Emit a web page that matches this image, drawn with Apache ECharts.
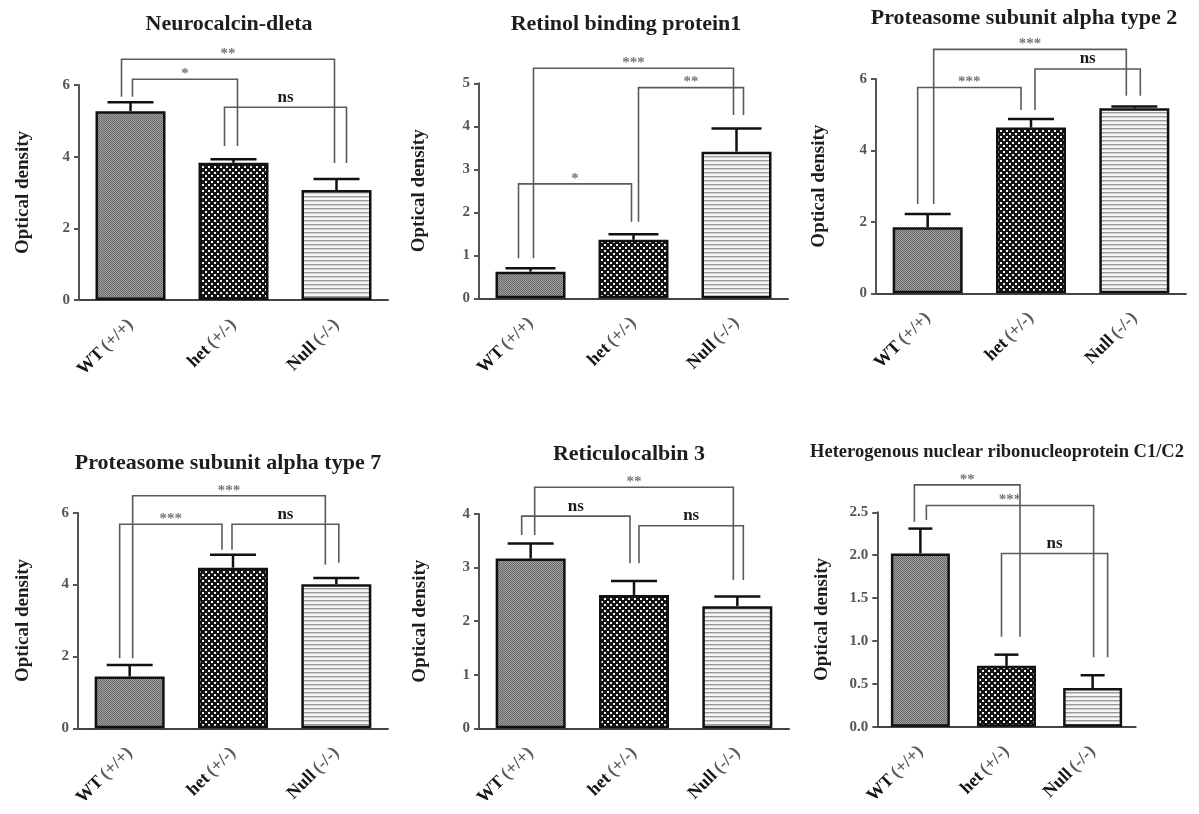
<!DOCTYPE html>
<html><head><meta charset="utf-8">
<script src="https://cdn.jsdelivr.net/npm/echarts@6/dist/echarts.min.js"></script>
<style>html,body{margin:0;padding:0;background:#fff}#c{width:1199px;height:814px}</style>
</head><body><div id="c"></div>
<script>
// ---------------- DATA ----------------
const categories = ['WT (+/+)', 'het (+/-)', 'Null (-/-)'];
const panelTitles = ['Neurocalcin-dleta', 'Retinol binding protein1', 'Proteasome subunit alpha type 2',
  'Proteasome subunit alpha type 7', 'Reticulocalbin 3', 'Heterogenous nuclear ribonucleoprotein C1/C2'];
const yAxisName = 'Optical density';

const yTicks1 = [0, 2, 4, 6];
const yTicks2 = [0, 1, 2, 3, 4, 5];
const yTicks3 = [0, 2, 4, 6];
const yTicks4 = [0, 2, 4, 6];
const yTicks5 = [0, 1, 2, 3, 4];
const yTicks6 = [0.0, 0.5, 1.0, 1.5, 2.0, 2.5];

const neurocalcinMean = [5.27, 3.83, 3.07];
const neurocalcinSem  = [0.25, 0.10, 0.31];
const retinolMean = [0.62, 1.36, 3.41];
const retinolSem  = [0.08, 0.13, 0.54];
const psma2Mean = [1.85, 4.64, 5.18];
const psma2Sem  = [0.37, 0.24, 0.05];
const psma7Mean = [1.44, 4.47, 4.01];
const psma7Sem  = [0.32, 0.36, 0.17];
const rcn3Mean = [3.17, 2.49, 2.28];
const rcn3Sem  = [0.28, 0.26, 0.18];
const hnrnpMean = [2.02, 0.71, 0.45];
const hnrnpSem  = [0.29, 0.13, 0.15];

// brackets: [fromGroup, toGroup, bracketLevel, fromLegEnd, toLegEnd, label]
const neurocalcinBrackets = [[0, 2, 6.72, 5.67, 3.82, '**'], [0, 1, 6.16, 5.67, 4.30, '*'], [1, 2, 5.38, 4.30, 3.82, 'ns']];
const retinolBrackets = [[0, 2, 5.35, 0.93, 4.26, '***'], [1, 2, 4.90, 1.78, 4.26, '**'], [0, 1, 2.66, 0.93, 1.78, '*']];
const psma2Brackets = [[0, 2, 6.83, 2.50, 5.53, '***'], [0, 1, 5.76, 2.50, 5.13, '***'], [1, 2, 6.28, 5.13, 5.53, 'ns']];
const psma7Brackets = [[0, 2, 6.47, 1.95, 4.55, '***'], [0, 1, 5.68, 1.95, 4.97, '***'], [1, 2, 5.68, 4.97, 4.61, 'ns']];
const rcn3Brackets = [[0, 2, 4.50, 3.61, 2.77, '**'], [0, 1, 3.96, 3.61, 3.08, 'ns'], [1, 2, 3.78, 3.08, 2.77, 'ns']];
const hnrnpBrackets = [[0, 1, 2.82, 2.39, 1.05, '**'], [0, 2, 2.58, 2.41, 0.81, '***'], [1, 2, 2.02, 1.05, 0.81, 'ns']];

const panelMeans = [neurocalcinMean, retinolMean, psma2Mean, psma7Mean, rcn3Mean, hnrnpMean];
const panelSems = [neurocalcinSem, retinolSem, psma2Sem, psma7Sem, rcn3Sem, hnrnpSem];
const panelBrackets = [neurocalcinBrackets, retinolBrackets, psma2Brackets, psma7Brackets, rcn3Brackets, hnrnpBrackets];
const panelTicks = [yTicks1, yTicks2, yTicks3, yTicks4, yTicks5, yTicks6];

// ---------------- LAYOUT ----------------
const layouts = [
  {left: 79, top: 85, width: 309, height: 215, barWidth: 70, cap: 46, titleX: 224, titleY: 8, titleSize: 22, nameGap: 46, dec: 0,
   legOffsets: [[-9, -2], [2, 4], [-9, 10]]},
  {left: 479, top: 83.3, width: 309, height: 215, barWidth: 70, cap: 50, titleX: 621, titleY: 8, titleSize: 22, nameGap: 50, dec: 0,
   legOffsets: [[3, -3], [5, 7], [-12, -2]]},
  {left: 876, top: 79, width: 310, height: 214.3, barWidth: 70, cap: 46, titleX: 1019, titleY: 2, titleSize: 22, nameGap: 47, dec: 0,
   legOffsets: [[6, -8], [-10, -10], [4, 6]]},
  {left: 78, top: 512.7, width: 310, height: 215.6, barWidth: 70, cap: 46, titleX: 223, titleY: 447, titleSize: 22, nameGap: 45, dec: 0,
   legOffsets: [[3, -11], [-10, -11], [-1, 2.5]]},
  {left: 479, top: 514, width: 310, height: 214.3, barWidth: 70, cap: 46, titleX: 624, titleY: 438, titleSize: 22, nameGap: 49, dec: 0,
   legOffsets: [[4, -4], [-9, -4], [5, 6]]},
  {left: 877.3, top: 512.3, width: 258.4, height: 214.4, barWidth: 59, cap: 24, titleX: 992, titleY: 438, titleSize: 18.5, nameGap: 46, dec: 1,
   legOffsets: [[-6, 13.5], [6, 1], [-5, 15]]}
];

const FONT = '"Liberation Serif", "Times New Roman", serif';

function makePattern(kind) {
  const c = document.createElement('canvas');
  const ctx = c.getContext('2d');
  if (kind === 0) {
    c.width = 2; c.height = 2;
    ctx.fillStyle = '#a0a0a0'; ctx.fillRect(0, 0, 2, 2);
    ctx.fillStyle = '#686868'; ctx.fillRect(0, 0, 1, 1); ctx.fillRect(1, 1, 1, 1);
  } else if (kind === 1) {
    c.width = 6; c.height = 6;
    ctx.fillStyle = '#141414'; ctx.fillRect(0, 0, 6, 6);
    ctx.fillStyle = '#f2f2f2';
    ctx.fillRect(1, 1, 2, 2);
    ctx.fillRect(4, 4, 2, 2);
  } else {
    c.width = 4; c.height = 4;
    ctx.fillStyle = '#f6f6f6'; ctx.fillRect(0, 0, 4, 4);
    ctx.fillStyle = '#9a9a9a'; ctx.fillRect(0, 0, 4, 1);
    ctx.fillStyle = '#cfcfcf'; ctx.fillRect(0, 1, 4, 1);
  }
  return {image: c, repeat: 'repeat'};
}
const patterns = [makePattern(0), makePattern(1), makePattern(2)];

const titles = [], grids = [], xAxes = [], yAxes = [], series = [];

layouts.forEach((lay, p) => {
  const ticks = panelTicks[p];
  const interval = ticks[1] - ticks[0];
  titles.push({
    text: panelTitles[p], left: lay.titleX, top: lay.titleY, textAlign: 'center',
    textStyle: {fontFamily: FONT, fontWeight: 'bold', fontSize: lay.titleSize, color: '#1e1e1e'}
  });
  grids.push({left: lay.left, top: lay.top, width: lay.width, height: lay.height, containLabel: false});
  xAxes.push({
    type: 'category', gridIndex: p, data: categories,
    axisLine: {lineStyle: {color: '#444', width: 2}},
    axisTick: {alignWithLabel: true, length: 6, lineStyle: {color: '#444', width: 2}},
    axisLabel: {
      interval: 0, rotate: 45, margin: 22,
      formatter: v => { const i = v.indexOf(' '); return '{a|' + v.slice(0, i) + '} {b|' + v.slice(i + 1) + '}'; },
      rich: {
        a: {fontFamily: FONT, fontWeight: 'bold', fontSize: 18, color: '#151515'},
        b: {fontFamily: FONT, fontWeight: 'bold', fontSize: 18, color: '#5a5a5a'}
      }
    },
    splitLine: {show: false}
  });
  yAxes.push({
    type: 'value', gridIndex: p, min: ticks[0], max: ticks[ticks.length - 1], interval: interval,
    name: yAxisName, nameLocation: 'middle', nameRotate: 90, nameGap: lay.nameGap,
    nameTextStyle: {fontFamily: FONT, fontWeight: 'bold', fontSize: 19, color: '#1e1e1e'},
    axisLine: {show: true, lineStyle: {color: '#555', width: 2}},
    axisTick: {show: true, length: 5, lineStyle: {color: '#555', width: 2}},
    axisLabel: {margin: 9, fontFamily: FONT, fontWeight: 'bold', fontSize: 15, color: '#555',
      formatter: v => v.toFixed(lay.dec)},
    splitLine: {show: false}
  });
  series.push({
    type: 'bar', xAxisIndex: p, yAxisIndex: p, barWidth: lay.barWidth,
    data: panelMeans[p].map((v, i) => ({value: v, itemStyle: {color: patterns[i]}})),
    itemStyle: {borderColor: '#111', borderWidth: 2.5},
    silent: true, z: 2
  });
  series.push({
    type: 'custom', xAxisIndex: p, yAxisIndex: p, z: 3, silent: true,
    encode: {x: 0, y: [1, 2]},
    data: panelMeans[p].map((v, i) => [i, v, panelSems[p][i]]),
    renderItem: (params, api) => {
      const i = api.value(0), m = api.value(1), s = api.value(2);
      const a = api.coord([i, m]), b = api.coord([i, m + s]);
      const st = {stroke: '#111', lineWidth: 2.5};
      return {type: 'group', children: [
        {type: 'line', shape: {x1: a[0], y1: a[1], x2: b[0], y2: b[1]}, style: st},
        {type: 'line', shape: {x1: b[0] - lay.cap / 2, y1: b[1], x2: b[0] + lay.cap / 2, y2: b[1]}, style: st}
      ]};
    }
  });
  const br = panelBrackets[p];
  series.push({
    type: 'custom', xAxisIndex: p, yAxisIndex: p, z: 4, silent: true, clip: false,
    encode: {x: [0, 1], y: [2, 3, 4]},
    data: br.map(b => b.slice(0, 5)),
    renderItem: (params, api) => {
      const k = params.dataIndex;
      const from = api.value(0), to = api.value(1), level = api.value(2), e1 = api.value(3), e2 = api.value(4);
      const off = lay.legOffsets[k];
      const x1 = api.coord([from, level])[0] + off[0];
      const x2 = api.coord([to, level])[0] + off[1];
      const yL = api.coord([from, level])[1];
      const y1 = api.coord([from, e1])[1];
      const y2 = api.coord([to, e2])[1];
      const label = br[k][5];
      const isNs = label === 'ns';
      return {type: 'group', children: [
        {type: 'polyline', shape: {points: [[x1, y1], [x1, yL], [x2, yL], [x2, y2]]},
         style: {stroke: '#5a5a5a', lineWidth: 1.6, fill: null}},
        {type: 'text', x: (x1 + x2) / 2, y: yL - (isNs ? 10 : 5),
         style: {text: label, textAlign: 'center', textVerticalAlign: 'middle',
           font: (isNs ? 'bold 17px ' : 'bold 15px ') + FONT, fill: isNs ? '#1a1a1a' : '#777'}}
      ]};
    }
  });
});

const chart = echarts.init(document.getElementById('c'), null, {renderer: 'canvas'});
chart.setOption({
  backgroundColor: '#fff', animation: false,
  title: titles, grid: grids, xAxis: xAxes, yAxis: yAxes, series: series
});
</script></body></html>
